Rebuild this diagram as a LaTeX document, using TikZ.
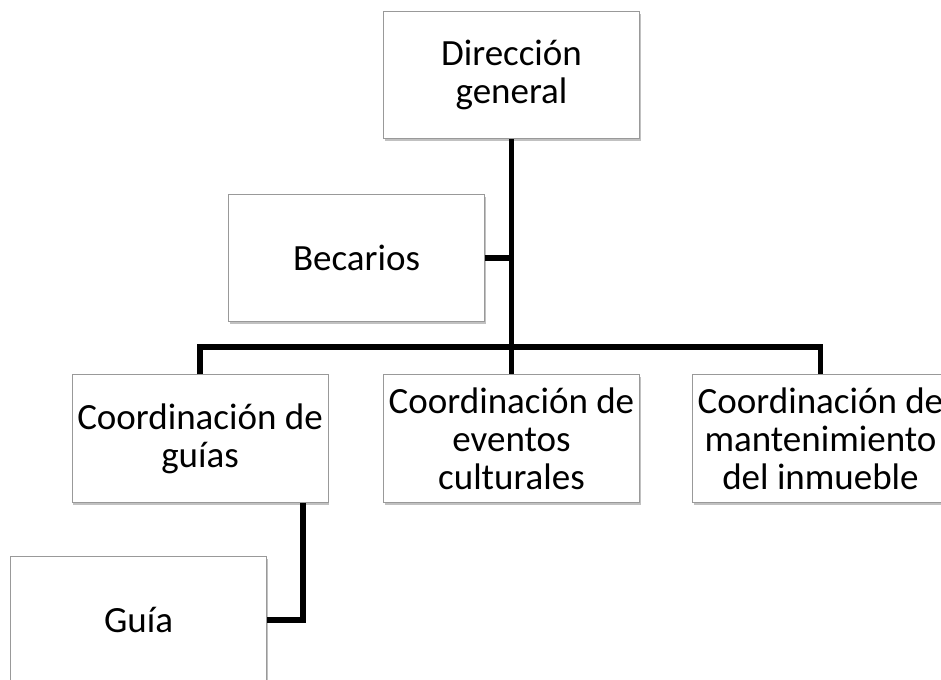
\documentclass[tikz,border=0pt]{standalone}
\usepackage{fontspec}
\setmainfont{Carlito}
\usetikzlibrary{positioning}
\usetikzlibrary{shadows}
\tikzset{
    unit/.style = {rectangle, draw=black!40, line width=0.6pt, fill=white,
        minimum width=192pt, minimum height=95.5pt, inner sep=1pt, align=center,
        font=\fontsize{27.75pt}{28.5pt}\selectfont,
        drop shadow={shadow xshift=1pt, shadow yshift=-2pt, opacity=0.35, fill=black!70}},
    link/.style = {line width=4.3pt, black, line join=miter}}

\begin{document}
\begin{tikzpicture}[x=0.75pt, y=-0.75pt, on grid]
    \useasboundingbox (0,0) rectangle (941,680);
    \clip (0,0) rectangle (941,680);
    \node[unit] (dir) at (511.5,75) {Dirección\\general};
    \node[unit] (eventos) [below = 272.6pt of dir] {Coordinación de\\eventos\\culturales};
    \node[unit] (guias) [left = 233.6pt of eventos] {Coordinación de\\guías};
    \node[unit] (mant) [right = 231.75pt of eventos] {Coordinación de\\mantenimiento\\del inmueble};
    \node[unit] (bec) [above left = 135.4pt and 116.25pt of eventos] {Becarios};
    \node[unit] (guia) [below left = 136.1pt and 46.1pt of guias] {Guía};
    \coordinate (bus) at (511.5,347);
    \draw[link] (dir.south) -- (eventos.north);
    \draw[link] (guias.north) |- (bus) -| (mant.north);
    \draw[link] (bec.east) -- (bec.east -| dir.south);
    \draw[link] ([xshift=-19pt]guias.south east) |- (guia.east);
\end{tikzpicture}
\end{document}
